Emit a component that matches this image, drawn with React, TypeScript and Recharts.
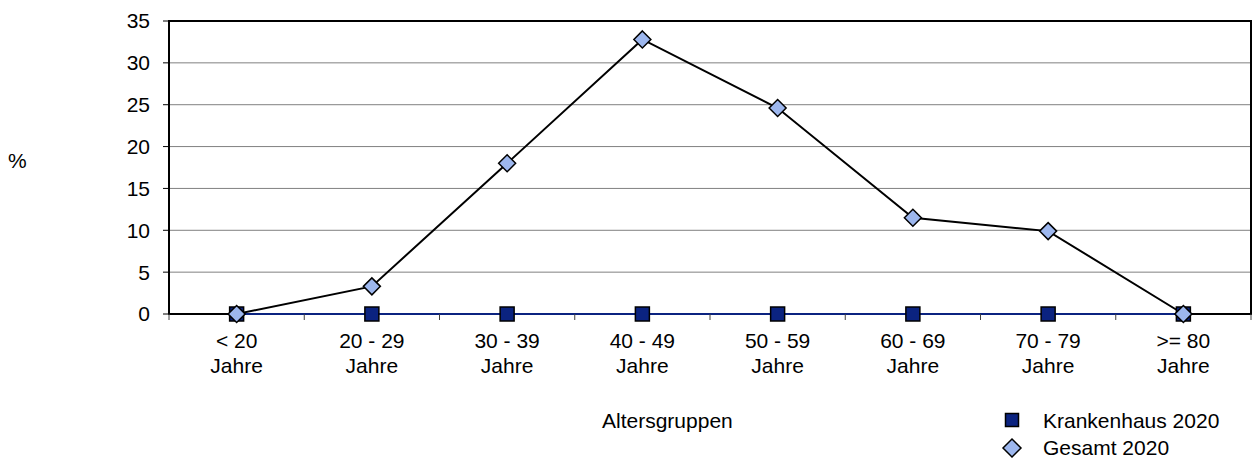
import React from "react";
import { LineChart, Line, XAxis, YAxis, CartesianGrid, ReferenceArea } from "recharts";

const categories = ["< 20", "20 - 29", "30 - 39", "40 - 49", "50 - 59", "60 - 69", "70 - 79", ">= 80"];
const krankenhaus2020 = [0, 0, 0, 0, 0, 0, 0, 0];
const gesamt2020 = [0, 3.3, 18.0, 32.8, 24.6, 11.5, 9.9, 0];
const yTicks = [0, 5, 10, 15, 20, 25, 30, 35];

const rows = categories.map((c, i) => ({
  pos: i + 0.5,
  name: c,
  krankenhaus: krankenhaus2020[i],
  gesamt: gesamt2020[i],
}));

// tick mark at every category boundary, label at every category center
const xTicks: number[] = [];
for (let i = 0; i <= categories.length * 2; i++) xTicks.push(i / 2);

const FONT = "'Liberation Sans', Arial, sans-serif";
const FS = 21;
const NAVY = "#0B2380";
const DIAMOND = "#9DB7EE";

function CategoryTick(props: any) {
  const { x, y, payload } = props;
  const v = payload.value as number;
  if (Number.isInteger(v)) {
    return <line x1={x} x2={x} y1={y} y2={y + 6} stroke="#404040" strokeWidth={1} />;
  }
  const label = categories[Math.floor(v)];
  return (
    <g>
      <text x={x} y={y + 34} textAnchor="middle" fontSize={FS} fill="#000" fontFamily={FONT}>
        {label}
      </text>
      <text x={x} y={y + 59} textAnchor="middle" fontSize={FS} fill="#000" fontFamily={FONT}>
        Jahre
      </text>
    </g>
  );
}

function SquareDot(props: any) {
  const { cx, cy, index } = props;
  if (cx == null || cy == null) return <g key={index} />;
  return <rect key={index} x={cx - 7} y={cy - 7} width={14} height={14} fill={NAVY} stroke="#000" strokeWidth={1.5} />;
}

function DiamondDot(props: any) {
  const { cx, cy, index } = props;
  if (cx == null || cy == null) return <g key={index} />;
  const r = 8.5;
  return (
    <path
      key={index}
      d={`M${cx},${cy - r} L${cx + r},${cy} L${cx},${cy + r} L${cx - r},${cy} Z`}
      fill={DIAMOND}
      stroke="#000"
      strokeWidth={1.5}
    />
  );
}

export default function App() {
  return (
    <div style={{ position: "absolute", left: 0, top: 0, width: 1253, height: 460, background: "#fff", fontFamily: FONT }}>
      <LineChart width={1253} height={460} data={rows} margin={{ top: 21, right: 2, left: 109, bottom: 86 }}>
        <CartesianGrid vertical={false} stroke="#808080" strokeWidth={1} />
        <XAxis
          dataKey="pos"
          type="number"
          domain={[0, 8]}
          ticks={xTicks}
          interval={0}
          tick={<CategoryTick />}
          tickLine={false}
          axisLine={false}
          tickSize={0}
          tickMargin={0}
          height={60}
        />
        <YAxis
          type="number"
          domain={[0, 35]}
          ticks={yTicks}
          interval={0}
          width={60}
          axisLine={false}
          tickLine={{ stroke: "#000" }}
          tickSize={6}
          tickMargin={13}
          tick={{ fontSize: FS, fill: "#000", fontFamily: FONT }}
        />
        <ReferenceArea x1={0} x2={8} y1={0} y2={35} fill="none" stroke="#000" strokeWidth={2} ifOverflow="visible" />
        <Line
          dataKey="krankenhaus"
          name="Krankenhaus 2020"
          stroke={NAVY}
          strokeWidth={2}
          dot={<SquareDot />}
          activeDot={false}
          isAnimationActive={false}
        />
        <Line
          dataKey="gesamt"
          name="Gesamt 2020"
          stroke="#000"
          strokeWidth={2}
          dot={<DiamondDot />}
          activeDot={false}
          isAnimationActive={false}
        />
      </LineChart>
      <svg
        width={1253}
        height={460}
        style={{ position: "absolute", left: 0, top: 0, pointerEvents: "none" }}
        fontFamily={FONT}
        fontSize={FS}
      >
        <text x={8} y={168} fill="#000">%</text>
        <text x={602} y={428} fill="#000">Altersgruppen</text>
        <rect x={1005.5} y={413.5} width={13} height={13} fill={NAVY} stroke="#000" strokeWidth={1.5} />
        <text x={1043} y={428} fill="#000">Krankenhaus 2020</text>
        <path d="M1012,439 L1021,448 L1012,457 L1003,448 Z" fill={DIAMOND} stroke="#000" strokeWidth={1.5} />
        <text x={1043} y={455} fill="#000">Gesamt 2020</text>
      </svg>
    </div>
  );
}
